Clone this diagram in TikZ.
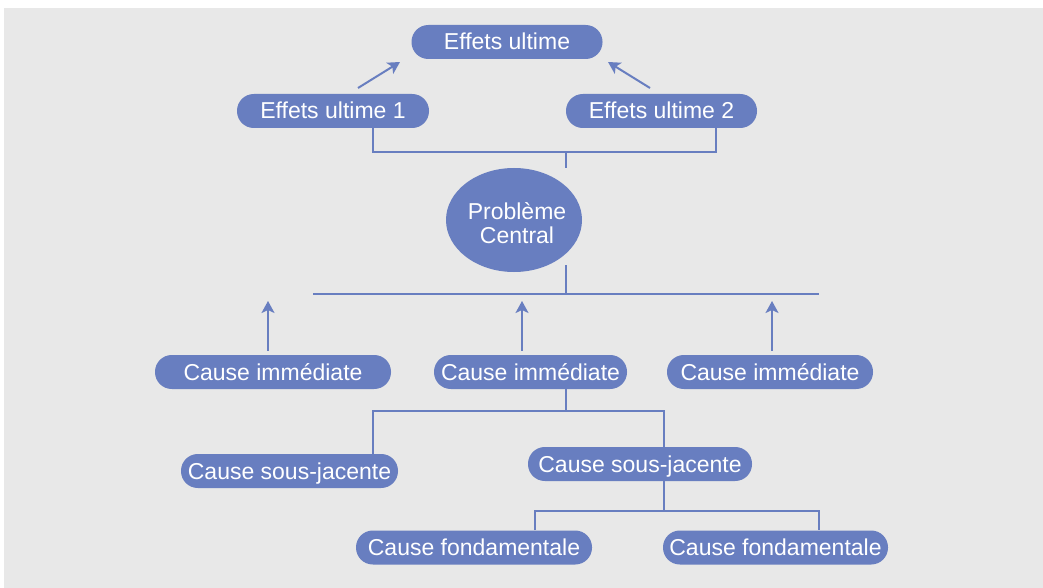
\documentclass[tikz,border=0pt]{standalone}
\usepackage{fontspec}
\setmainfont{Liberation Sans}
\usetikzlibrary{shapes.geometric,arrows.meta}
\definecolor{boxblue}{RGB}{104,126,192}
\definecolor{backgrey}{RGB}{232,232,232}
\tikzset{
  pill/.style={fill=boxblue, text=white, rounded corners=8.4pt, minimum height=17pt,
    inner sep=0pt, text height=10pt, text depth=2pt},
  link/.style={draw=boxblue, line width=1pt},
  arr/.style={link, -{Stealth[length=6pt,width=6.5pt,inset=1.5pt]}}
}
\begin{document}
\begin{tikzpicture}[x=0.5pt,y=-0.5pt,font=\fontsize{11.5}{12}\selectfont]
\useasboundingbox (0,0) rectangle (1043,588);
\fill[backgrey] (4,8) rectangle (1043,588);
% effets
\node[pill, minimum width=95.5pt] (eu) at (507,42) {Effets ultime};
\node[pill, minimum width=96pt] (eu1) at (333,111) {Effets ultime 1};
\node[pill, minimum width=95.5pt] (eu2) at (661.5,111) {Effets ultime 2};
\coordinate (a1) at (358,88);
\coordinate (a2) at (650,88);
\draw[arr] (a1) -- (400,62);
\draw[arr] (a2) -- (608,62);
\coordinate (j0) at (566,152);
\coordinate (j1) at (373,152);
\coordinate (j2) at (716,152);
\draw[link] (eu1.south -| j1) -- (j1) -- (j2) -- (eu2.south -| j2);
% probleme
\node[ellipse, fill=boxblue, text=white, minimum width=68pt, minimum height=52pt,
  inner ysep=0pt, inner xsep=-1.5pt, align=center] (pc) at (514,220)
  {\hspace*{1.5pt}\rule{0pt}{11.5pt}Problème\hspace*{-1.5pt}\\\hspace*{1.5pt}Central\hspace*{-1.5pt}};
\draw[link] (j0) -- (j0 |- pc.north);
\coordinate (k0) at (566,265);
\coordinate (h1) at (313,294);
\coordinate (h2) at (819,294);
\draw[link] (k0) -- (k0 |- h1);
\draw[link] (h1) -- (h2);
% causes
\node[pill, minimum width=118pt] (ci1) at (273,372) {Cause immédiate};
\node[pill, minimum width=96.5pt] (ci2) at (530.5,372) {Cause immédiate};
\node[pill, minimum width=103pt] (ci3) at (770,372) {Cause immédiate};
\coordinate (t1) at (268,301);
\coordinate (t2) at (522,301);
\coordinate (t3) at (772,301);
\draw[arr] (t1 |- ci1.north) ++(0,-4) -- (t1);
\draw[arr] (t2 |- ci2.north) ++(0,-4) -- (t2);
\draw[arr] (t3 |- ci3.north) ++(0,-4) -- (t3);
\node[pill, minimum width=108.5pt] (csj1) at (289.5,471) {Cause sous-jacente};
\node[pill, minimum width=112pt] (csj2) at (640,464) {Cause sous-jacente};
\coordinate (s0) at (566,411);
\coordinate (s1) at (373,411);
\coordinate (s2) at (664,411);
\draw[link] (ci2.south -| s0) -- (s0);
\draw[link] (csj1.north -| s1) -- (s1) -- (s2) -- (csj2.north -| s2);
\node[pill, minimum width=118pt] (cf1) at (474,547.5) {Cause fondamentale};
\node[pill, minimum width=112.5pt] (cf2) at (775.5,547.5) {Cause fondamentale};
\coordinate (f0) at (664,511);
\coordinate (f1) at (535,511);
\coordinate (f2) at (819,511);
\draw[link] (csj2.south -| f0) -- (f0);
\draw[link] (cf1.north -| f1) -- (f1) -- (f2) -- (cf2.north -| f2);
\end{tikzpicture}
\end{document}
